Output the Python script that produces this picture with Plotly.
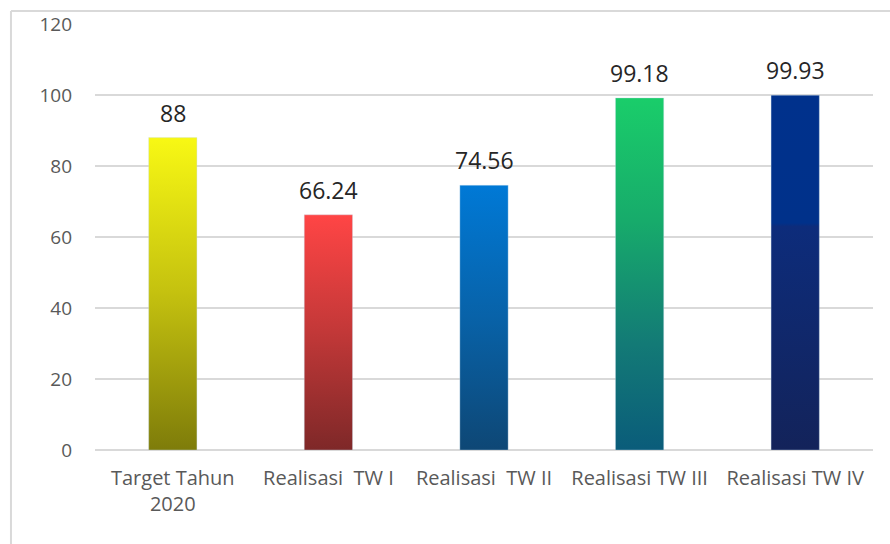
import plotly.graph_objects as go

# Chart data
categories = ["Target Tahun<br>2020", "Realisasi  TW I", "Realisasi  TW II",
              "Realisasi TW III", "Realisasi TW IV"]
values = [88, 66.24, 74.56, 99.18, 99.93]
value_labels = ["88", "66.24", "74.56", "99.18", "99.93"]
y_ticks = [0, 20, 40, 60, 80, 100, 120]

# Vertical gradients per bar (bottom -> top)
gradients = [
    [[0, "#7E7C0A"], [0.5, "#C4C10F"], [1, "#F8F814"]],
    [[0, "#7E2828"], [0.5, "#C23838"], [1, "#FF4545"]],
    [[0, "#0E4775"], [0.5, "#0862A8"], [1, "#0079D6"]],
    [[0, "#0A5C7A"], [0.3, "#137A76"], [0.65, "#17AB6B"], [1, "#1ACD6A"]],
    [[0, "#13235A"], [0.63, "#0D2C7B"], [0.64, "#00318A"], [1, "#00318C"]],
]

half_width = 0.155

fig = go.Figure()
for i, (v, cs) in enumerate(zip(values, gradients)):
    xs = [i - half_width, i + half_width, i + half_width, i - half_width, i - half_width]
    ys = [0, 0, v, v, 0]
    fig.add_trace(go.Scatter(
        x=xs, y=ys, mode="lines", fill="toself",
        line=dict(width=0.6, color="rgba(200,220,235,0.6)"),
        fillgradient=dict(type="vertical", colorscale=cs, start=0, stop=v),
        hoverinfo="skip", showlegend=False,
    ))

for i, (v, lab) in enumerate(zip(values, value_labels)):
    fig.add_annotation(
        x=i, y=v, text=lab, showarrow=False, yanchor="bottom", yshift=7,
        font=dict(family="Open Sans", size=23, color="#262626"),
    )

# Outer frame lines (left and top)
fig.add_shape(type="line", xref="paper", yref="paper", x0=-0.108, x1=-0.108,
              y0=1.0305, y1=-0.23, line=dict(color="#D9D9D9", width=2))
fig.add_shape(type="line", xref="paper", yref="paper", x0=-0.108, x1=1.03,
              y0=1.0305, y1=1.0305, line=dict(color="#D9D9D9", width=2))

fig.update_layout(
    width=890, height=544,
    margin=dict(l=95, r=17, t=24, b=94),
    paper_bgcolor="white", plot_bgcolor="white",
    xaxis=dict(
        range=[-0.5, 4.5], tickvals=list(range(len(categories))), ticktext=categories,
        showgrid=False, zeroline=False, showline=False, ticks="",
        ticklabelstandoff=14,
        tickfont=dict(family="Open Sans", size=20, color="#595959"),
    ),
    yaxis=dict(
        range=[0, 120], tickvals=y_ticks, showgrid=True, gridcolor="#D9D9D9",
        gridwidth=1.5, zeroline=True, zerolinecolor="#D9D9D9", zerolinewidth=1.5,
        showline=False, ticks="", ticklabelstandoff=22,
        tickfont=dict(family="Open Sans", size=19, color="#595959"),
    ),
)

fig.write_html("out.html")
